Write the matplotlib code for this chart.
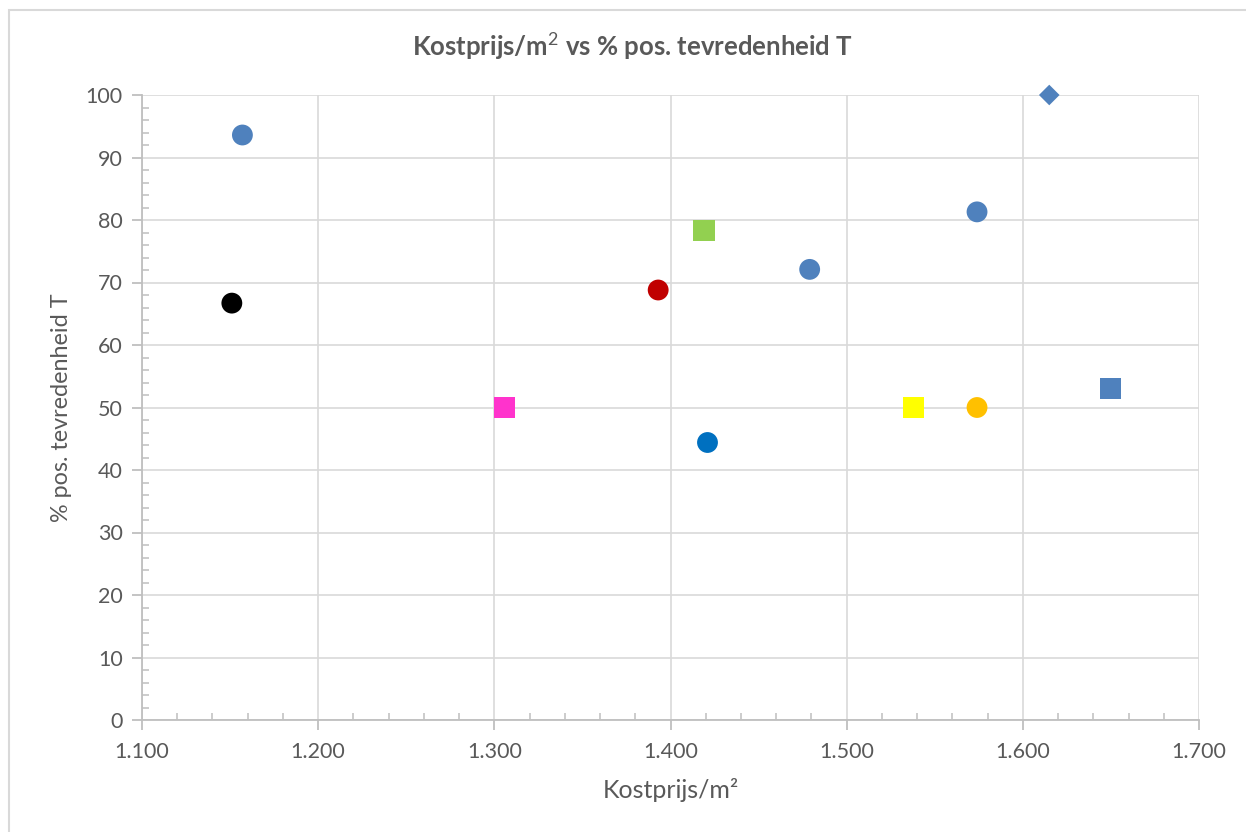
import matplotlib.pyplot as plt
from matplotlib.ticker import MultipleLocator, FuncFormatter
from matplotlib.patches import Rectangle

plt.rcParams['font.family'] = ['Lato', 'DejaVu Sans']
plt.rcParams['mathtext.fontset'] = 'custom'
plt.rcParams['mathtext.rm'] = 'Lato'
plt.rcParams['mathtext.bf'] = 'Lato:bold'

# kostprijs per m2 and % positive tevredenheid, one marker per project
kostprijs = [1157, 1151, 1306, 1393, 1419, 1421, 1479, 1538, 1574, 1574, 1615, 1650]
tevredenheid = [93.6, 66.7, 50.0, 68.8, 78.3, 44.4, 72.1, 50.0, 50.0, 81.3, 100.0, 53.0]
markers = ['o', 'o', 's', 'o', 's', 'o', 'o', 's', 'o', 'o', 'D', 's']
colors = ['#4F81BD', '#000000', '#FF33CC', '#C00000', '#92D050', '#0070C0',
          '#4F81BD', '#FFFF00', '#FFC000', '#4F81BD', '#4F81BD', '#4F81BD']
sizes = {'o': 225, 's': 230, 'D': 110}

grey = '#595959'
gridc = '#D9D9D9'

fig = plt.figure(figsize=(12.46, 8.32), dpi=100)
ax = fig.add_axes([142 / 1246, 1 - 720 / 832, 1057 / 1246, 625 / 832])

# chart frame
fig.patches.append(Rectangle((9 / 1246, -0.1), 1.2, 1 - 10 / 832 + 0.1,
                             transform=fig.transFigure, fill=False,
                             edgecolor='#D9D9D9', lw=1.5))

for x, y, m, c in zip(kostprijs, tevredenheid, markers, colors):
    ax.scatter(x, y, marker=m, s=sizes[m], color=c, edgecolors='none',
               zorder=3, clip_on=False)

ax.set_xlim(1100, 1700)
ax.set_ylim(0, 100)
ax.xaxis.set_major_locator(MultipleLocator(100))
ax.xaxis.set_minor_locator(MultipleLocator(20))
ax.yaxis.set_major_locator(MultipleLocator(10))
ax.yaxis.set_minor_locator(MultipleLocator(2))
ax.xaxis.set_major_formatter(FuncFormatter(lambda v, p: f"{v / 1000:.3f}"))

ax.grid(True, which='major', color=gridc, lw=1.2, zorder=0)
for s in ['top', 'right']:
    ax.spines[s].set_visible(False)
for s in ['left', 'bottom']:
    ax.spines[s].set_color('#BFBFBF')
    ax.spines[s].set_linewidth(1.3)

ax.tick_params(which='major', direction='out', length=7, width=1.3,
               color='#BFBFBF', labelsize=15.5, labelcolor=grey)
ax.tick_params(axis='x', which='major', pad=9)
ax.tick_params(axis='y', which='major', pad=7)
ax.tick_params(which='minor', direction='in', length=5, width=1.1,
               color='#BFBFBF')

ax.set_xlabel('Kostprijs/m²', fontsize=18, color=grey, va='center')
ax.set_ylabel('% pos. tevredenheid T', fontsize=16.8, color=grey, va='center')
ax.xaxis.set_label_coords(0.5, -70 / 625)
ax.yaxis.set_label_coords(-80 / 1057, 0.5)
fig.text(632 / 1246, 1 - 46 / 832, r'Kostprijs/m$^2$ vs % pos. tevredenheid T',
         fontsize=18.5, fontweight='bold', color=grey, ha='center', va='center')

fig.savefig('out.png', dpi=100)
